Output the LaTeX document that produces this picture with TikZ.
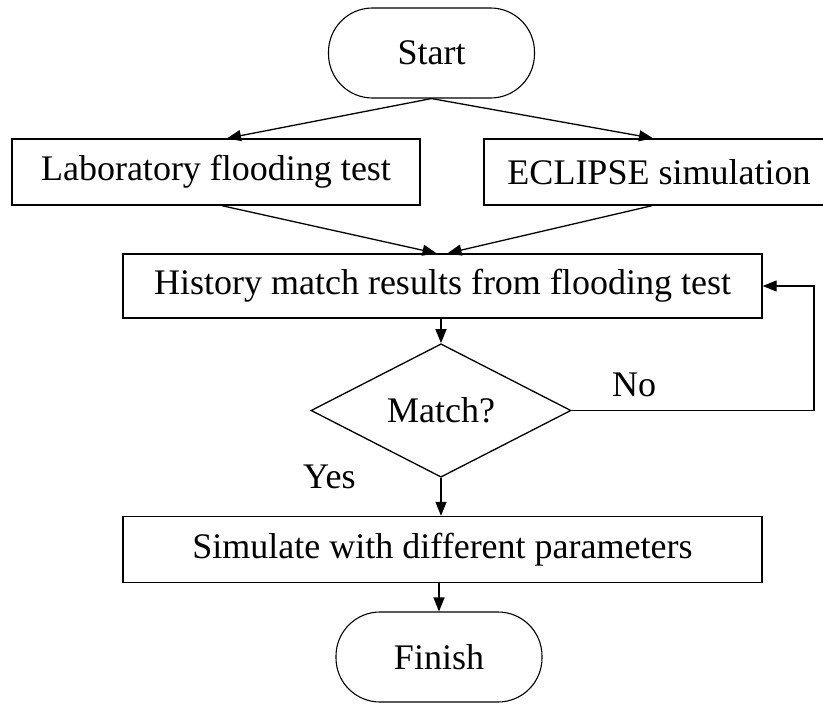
\documentclass[tikz,border=0pt]{standalone}
\usepackage{fontspec}
\setmainfont{Liberation Serif}
\usetikzlibrary{shapes.geometric,arrows.meta}

\tikzset{
  every node/.style={font=\fontsize{36}{43}\selectfont, inner sep=0pt},
  procbox/.style={draw, line width=1.4pt, rectangle, minimum height=66pt},
  terminal/.style={draw, line width=1.1pt, rectangle, rounded corners=44pt,
                   minimum width=206pt, minimum height=90pt},
  decision/.style={draw, line width=1.3pt, diamond,
                   minimum width=260pt, minimum height=123pt},
  arr/.style={line width=1.3pt, -{Triangle[length=14pt,width=11pt]}},
  flowlabel/.style={anchor=base west}
}

\begin{document}
\begin{tikzpicture}[x=1pt, y=-1pt]
  \clip (0,0) rectangle (823,704);
  \fill[white] (0,0) rectangle (823,704);

  % terminals
  \node[terminal] (start) at (431.5,53) {Start};
  \node[terminal] (finish) at (439,657) {Finish};

  % process boxes
  \node[procbox, minimum width=408pt] (lab) at (216,172) {Laboratory flooding test};
  \node[procbox, minimum width=350pt] (ecl) at (659,172) {ECLIPSE simulation};
  \node[procbox, minimum width=639pt, minimum height=64pt] (hist) at (442.5,286)
       {History match results from flooding test};
  \node[decision] (dia) at (441,410.5) {Match?};
  \node[procbox, minimum width=639pt] (sim) at (442.5,549.5)
       {Simulate with different parameters};

  % branch labels
  \node[flowlabel] (nolab) at (612,396) {No};
  \node[flowlabel] (yeslab) at (303,488) {Yes};

  % connectors
  \draw[arr] (start.south) -- ([xshift=11pt]lab.north);
  \draw[arr] (start.south) -- ([xshift=-6pt]ecl.north);
  \draw[arr] ([xshift=6pt]lab.south) -- ([xshift=-6pt]hist.north);
  \draw[arr] ([xshift=-7pt]ecl.south) -- ([xshift=5pt]hist.north);
  \draw[arr] (hist.south -| dia.north) -- (dia.north);
  \draw[arr] (dia.south) -- (sim.north -| dia.south);
  \draw[arr] (sim.south -| finish.north) -- (finish.north);
  \coordinate (loopc) at (814,410.5);
  \draw[arr] (dia.east) -- (loopc) |- (hist.east);
\end{tikzpicture}
\end{document}
